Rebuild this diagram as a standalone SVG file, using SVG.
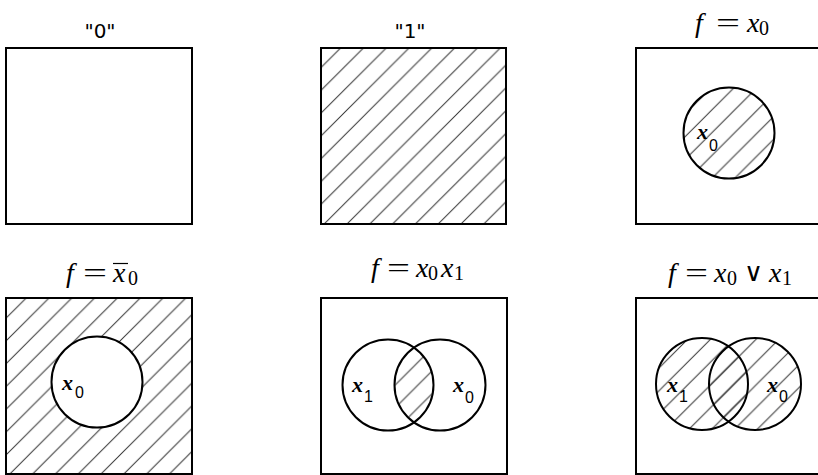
<svg xmlns="http://www.w3.org/2000/svg" width="818" height="475" viewBox="0 0 818 475">
<style>
.box{fill:none;stroke:#000;stroke-width:2}
.circ{fill:none;stroke:#000;stroke-width:2}
.q{font-family:"DejaVu Sans",sans-serif;font-size:20px;fill:#000;text-anchor:middle}
.m{font-family:"Liberation Serif","Times New Roman","DejaVu Serif",serif;font-style:italic;font-size:28px;fill:#000}
.r{font-family:"Liberation Serif","Times New Roman","DejaVu Serif",serif;font-size:28px;fill:#000}
.o{font-family:"DejaVu Sans",sans-serif;font-weight:200;font-size:26px;fill:#000}
.s{font-family:"Liberation Serif","Times New Roman","DejaVu Serif",serif;font-size:20px;fill:#000}
.v{font-family:"Liberation Serif","Times New Roman","DejaVu Serif",serif;font-style:italic;font-weight:bold;font-size:22px;fill:#000}
.vs{font-family:"Liberation Sans",Arial,sans-serif;font-size:16px;fill:#000}
</style>
<defs>
<pattern id="h2" patternUnits="userSpaceOnUse" width="22.8" height="22.8" patternTransform="translate(1,0)">
<path d="M0,22.8 L22.8,0 M-2,2 L2,-2 M20.8,24.8 L24.8,20.8" stroke="#333" stroke-width="1"/>
</pattern>
<pattern id="h4" patternUnits="userSpaceOnUse" width="22.8" height="22.8" patternTransform="translate(5,0)">
<path d="M0,22.8 L22.8,0 M-2,2 L2,-2 M20.8,24.8 L24.8,20.8" stroke="#333" stroke-width="1"/>
</pattern>
<clipPath id="c5"><circle cx="388" cy="385" r="45.5"/></clipPath>
</defs>

<g id="node-zero">
<text class="q" x="100" y="38">"0"</text>
<rect class="box" x="6" y="48" width="186" height="176"/>
</g>

<g id="node-one">
<text class="q" x="410" y="38">"1"</text>
<rect x="321" y="48" width="185" height="176" fill="url(#h2)"/>
<rect class="box" x="321" y="48" width="185" height="176"/>
</g>

<g id="node-x0">
<text class="m" x="695" y="32">f</text>
<text class="r" x="716" y="32" textLength="24" lengthAdjust="spacingAndGlyphs">=</text>
<text class="m" x="747" y="32">x</text>
<text class="s" x="759" y="35">0</text>
<rect class="box" x="636" y="48" width="186" height="176"/>
<circle cx="729" cy="133" r="45.5" fill="url(#h2)" stroke="#000" stroke-width="2"/>
<text class="v" x="697" y="139">x</text>
<text class="vs" x="709" y="151">0</text>
</g>

<g id="node-notx0">
<text class="m" x="66" y="282">f</text>
<text class="r" x="83" y="282" textLength="24" lengthAdjust="spacingAndGlyphs">=</text>
<text class="m" x="113" y="282">x</text>
<line x1="113" y1="263.5" x2="128" y2="263.5" stroke="#000" stroke-width="1.2"/>
<text class="s" x="128" y="285">0</text>
<rect x="6" y="298" width="186" height="176" fill="url(#h4)"/>
<rect class="box" x="6" y="298" width="186" height="176"/>
<circle cx="97" cy="382" r="45.5" fill="#fff" stroke="#000" stroke-width="2"/>
<text class="v" x="62" y="390">x</text>
<text class="vs" x="75" y="398">0</text>
</g>

<g id="node-and">
<text class="m" x="371" y="277">f</text>
<text class="r" x="387" y="277" textLength="23" lengthAdjust="spacingAndGlyphs">=</text>
<text class="m" x="416" y="277">x</text>
<text class="s" x="428" y="280">0</text>
<text class="m" x="441" y="277">x</text>
<text class="s" x="454" y="280">1</text>
<rect class="box" x="321" y="298" width="186" height="176"/>
<circle cx="440" cy="385" r="45.5" fill="url(#h4)" clip-path="url(#c5)"/>
<circle class="circ" cx="388" cy="385" r="45.5"/>
<circle class="circ" cx="440" cy="385" r="45.5"/>
<text class="v" x="352" y="392">x</text>
<text class="vs" x="364" y="402">1</text>
<text class="v" x="453" y="392">x</text>
<text class="vs" x="465" y="403">0</text>
</g>

<g id="node-or">
<text class="m" x="668" y="282">f</text>
<text class="r" x="685" y="282" textLength="23" lengthAdjust="spacingAndGlyphs">=</text>
<text class="m" x="714" y="282">x</text>
<text class="s" x="727" y="285">0</text>
<text class="o" x="744" y="281">∨</text>
<text class="m" x="769" y="282">x</text>
<text class="s" x="782" y="285">1</text>
<rect class="box" x="636" y="298" width="186" height="176"/>
<circle cx="702" cy="384" r="46" fill="url(#h2)"/>
<circle cx="755" cy="384" r="46" fill="url(#h2)"/>
<circle class="circ" cx="702" cy="384" r="46"/>
<circle class="circ" cx="755" cy="384" r="46"/>
<text class="v" x="667" y="392">x</text>
<text class="vs" x="679" y="402">1</text>
<text class="v" x="767" y="392">x</text>
<text class="vs" x="779" y="402">0</text>
</g>

<g id="connectors"/>
</svg>
